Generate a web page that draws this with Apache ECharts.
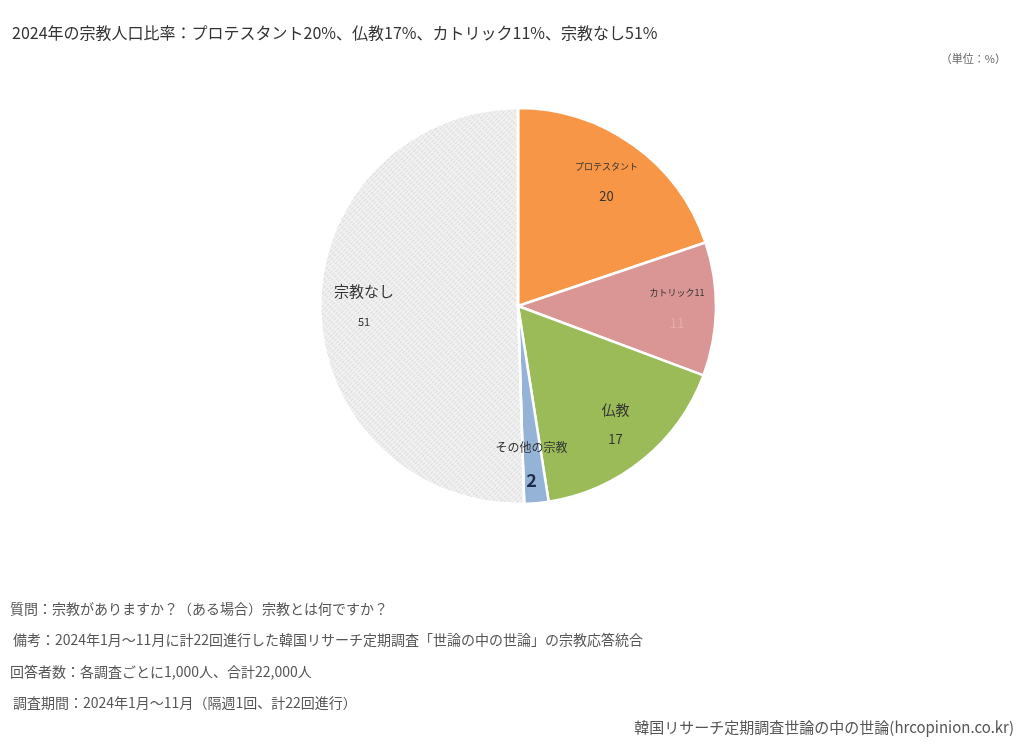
<!DOCTYPE html>
<html><head><meta charset="utf-8">
<script src="https://cdn.jsdelivr.net/npm/echarts@6/dist/echarts.min.js"></script>
<style>html,body{margin:0;padding:0;background:#fff}#c{width:1025px;height:750px}</style>
</head><body><div id="c"></div>
<script>
const categories = ['プロテスタント', 'カトリック', '仏教', 'その他の宗教', '宗教なし'];
const values = [20, 11, 17, 2, 51];
const titleText = '2024年の宗教人口比率：プロテスタント20%、仏教17%、カトリック11%、宗教なし51%';
const unitText = '（単位：%）';
const notes = [
  '質問：宗教がありますか？（ある場合）宗教とは何ですか？',
  '備考：2024年1月～11月に計22回進行した韓国リサーチ定期調査「世論の中の世論」の宗教応答統合',
  '回答者数：各調査ごとに1,000人、合計22,000人',
  '調査期間：2024年1月～11月（隔週1回、計22回進行）'
];
const sourceText = '韓国リサーチ定期調査世論の中の世論(hrcopinion.co.kr)';

const FONT = '"Noto Sans CJK JP", "Noto Sans", sans-serif';
const colors = ['#F79646', '#D99694', '#9BBB59', '#95B3D7', '#F0F0F0'];
const labelCfg = [
  { offset: [29, -40], fmt: p => '{a|' + p.name + '}\n{v|' + p.value + '}' },
  { offset: [57, 2], fmt: p => '{a2|' + p.name + p.value + '}\n{g|' + p.value + '}' },
  { offset: [33, 40], fmt: p => '{big|' + p.name + '}\n{v2|' + p.value + '}' },
  { offset: [4, 58], fmt: p => '{mid|' + p.name + '}\n{bold|' + p.value + '}' },
  { offset: [-52, -1], fmt: p => '{big2|' + p.name + '}\n{s|' + p.value + '}' }
];
const rich = {
  a: { fontSize: 9, color: '#333', fontFamily: FONT, height: 26, lineHeight: 26 },
  a2: { fontSize: 9, color: '#333', fontFamily: FONT, height: 26, lineHeight: 26 },
  v: { fontSize: 13, color: '#333', fontFamily: FONT, height: 34, lineHeight: 34 },
  v2: { fontSize: 13, color: '#333', fontFamily: FONT, height: 30, lineHeight: 30 },
  g: { fontSize: 13, color: '#e4acaa', fontFamily: FONT, height: 34, lineHeight: 34 },
  big: { fontSize: 14, color: '#333', fontFamily: FONT, height: 28, lineHeight: 28 },
  big2: { fontSize: 15, color: '#333', fontFamily: FONT, height: 30, lineHeight: 30 },
  mid: { fontSize: 12, color: '#333', fontFamily: FONT, height: 30, lineHeight: 30 },
  bold: { fontSize: 18, fontWeight: 'bold', color: '#1f2d4a', fontFamily: FONT, height: 36, lineHeight: 36 },
  s: { fontSize: 11, color: '#333', fontFamily: FONT, height: 30, lineHeight: 30 }
};

const data = categories.map((name, i) => {
  const item = {
    name, value: values[i],
    itemStyle: { color: colors[i] },
    label: { show: true, position: 'inside', offset: labelCfg[i].offset, formatter: labelCfg[i].fmt, rich }
  };
  if (i === 4) {
    item.itemStyle.decal = {
      symbol: 'rect', symbolSize: 1,
      dashArrayX: [[3, 2]], dashArrayY: [1, 2],
      rotation: -Math.PI / 4,
      color: 'rgba(205,205,205,0.6)'
    };
  }
  return item;
});

const noteY = [611, 642, 674, 705];
const noteX = [10, 13, 10, 13];
const graphic = [
  { type: 'text', left: 12, top: 25, style: { text: titleText, font: '16px ' + FONT, fill: '#333' } },
  { type: 'text', right: 19, top: 53, style: { text: unitText, font: '11px ' + FONT, fill: '#666' } }
].concat(notes.map((t, i) => ({
  type: 'text', left: noteX[i], top: noteY[i] - 9, style: { text: t, font: '14px ' + FONT, fill: '#555' }
}))).concat([
  { type: 'text', right: 11, top: 720, style: { text: sourceText, font: '15px ' + FONT, fill: '#555' } }
]);

const chart = echarts.init(document.getElementById('c'));
chart.setOption({
  animation: false,
  backgroundColor: '#fff',
  graphic,
  series: [{
    type: 'pie',
    center: [518, 306],
    radius: 198,
    startAngle: 90,
    clockwise: true,
    itemStyle: { borderColor: '#fff', borderWidth: 2.5 },
    labelLine: { show: false },
    emphasis: { disabled: true },
    data
  }]
});
</script></body></html>
